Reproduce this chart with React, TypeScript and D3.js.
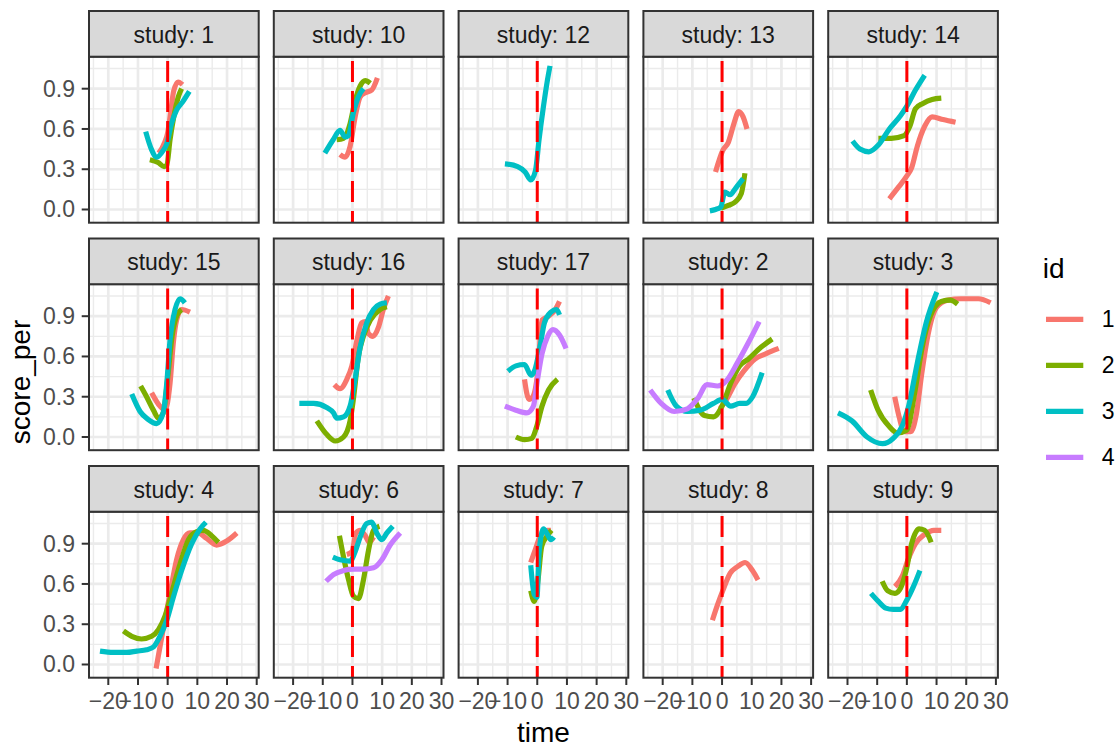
import React from "react";
import * as d3 from "d3";

type Pt = [number, number];

const studyLabels = ["1", "10", "12", "13", "14", "15", "16", "17", "2", "3", "4", "6", "7", "8", "9"];
const idLevels = ["1", "2", "3", "4"];
const idColors = ["#F8766D", "#7CAE00", "#00BFC4", "#C77CFF"];
const xMajor = [-20, -10, 0, 10, 20, 30];
const xMinor = [-25, -15, -5, 5, 15, 25];
const xTickLabels = ["\u221220", "\u221210", "0", "10", "20", "30"];
const yMajor = [0, 0.3, 0.6, 0.9];
const yMinor = [0.15, 0.45, 0.75, 1.05];
const yTickLabels = ["0.0", "0.3", "0.6", "0.9"];
const vlineTime = 0;
const xDomain: Pt = [-26.5, 30.67];
const yDomain: Pt = [-0.0984, 1.1384];

const study1: Record<string, Pt[]> = {
  "1": [[-3, 0.42], [-1, 0.5], [0, 0.57], [1, 0.72], [2, 0.88], [3.5, 0.95], [5, 0.93]],
  "2": [[-6, 0.37], [-3.2, 0.35], [-1.2, 0.32], [-0.3, 0.33], [0.8, 0.52], [1.9, 0.67], [3.6, 0.84], [4.7, 0.9]],
  "3": [[-7.4, 0.58], [-5.5, 0.45], [-3.7, 0.39], [-1.5, 0.44], [-0.3, 0.49], [1.3, 0.64], [3, 0.74], [5, 0.8], [7.3, 0.88]],
};
const study10: Record<string, Pt[]> = {
  "1": [[-4.2, 0.41], [-2.5, 0.39], [-0.8, 0.47], [0.9, 0.69], [2.6, 0.84], [4.3, 0.87], [6.5, 0.89], [8.4, 0.98]],
  "2": [[-5.3, 0.52], [-3, 0.53], [-0.8, 0.64], [0.9, 0.81], [2.6, 0.92], [4.3, 0.96], [6, 0.94]],
  "3": [[-9.3, 0.42], [-6.5, 0.52], [-4.2, 0.59], [-2.5, 0.54], [-1.4, 0.55], [0.3, 0.72], [2, 0.84], [3.7, 0.9]],
};
const study12: Record<string, Pt[]> = {
  "3": [[-10.9, 0.34], [-6.6, 0.32], [-4.1, 0.28], [-2.2, 0.22], [-0.6, 0.29], [0.6, 0.52], [2.1, 0.77], [3.4, 0.96], [4.3, 1.07]],
};
const study13: Record<string, Pt[]> = {
  "1": [[-2.2, 0.28], [0.25, 0.44], [2.1, 0.5], [4, 0.64], [5.6, 0.73], [7.1, 0.69], [8.4, 0.6]],
  "2": [[-0.4, 0.01], [2.1, 0.03], [4.6, 0.06], [6.5, 0.12], [7.7, 0.27]],
  "3": [[-4.1, -0.01], [-2.2, 0.0], [-0.4, 0.02], [0.9, 0.13], [2.75, 0.11], [4.6, 0.16], [7.1, 0.23]],
};
const study14: Record<string, Pt[]> = {
  "1": [[-5.9, 0.08], [-2.7, 0.17], [0, 0.25], [1.6, 0.31], [3.5, 0.47], [6, 0.62], [8.5, 0.69], [12.2, 0.67], [16.4, 0.65]],
  "2": [[-9.6, 0.53], [-5.2, 0.53], [-0.9, 0.55], [1, 0.62], [2.9, 0.75], [5.4, 0.79], [8.5, 0.82], [11.6, 0.83]],
  "3": [[-18.3, 0.51], [-15.8, 0.45], [-12.8, 0.43], [-9.6, 0.48], [-5.9, 0.6], [-2.1, 0.7], [0, 0.77], [2.9, 0.89], [6, 1.0]],
};
const study15: Record<string, Pt[]> = {
  "1": [[-5.4, 0.33], [-2.6, 0.23], [-0.9, 0.2], [0.8, 0.4], [1.9, 0.7], [3, 0.87], [4.7, 0.95], [7.5, 0.93]],
  "2": [[-9.1, 0.38], [-7.1, 0.3], [-4.8, 0.2], [-3.1, 0.14], [-1.5, 0.18], [0.2, 0.48], [1.3, 0.72], [3, 0.9], [4.7, 0.95]],
  "3": [[-12.1, 0.32], [-9.3, 0.19], [-6.5, 0.13], [-3.7, 0.1], [-1.5, 0.18], [-0.3, 0.4], [0.8, 0.72], [2.5, 0.95], [4.2, 1.03], [5.8, 1.0]],
};
const study16: Record<string, Pt[]> = {
  "1": [[-6.1, 0.39], [-4.2, 0.36], [-1.9, 0.43], [-0.2, 0.53], [1.5, 0.72], [3.1, 0.85], [4.3, 0.86], [5.4, 0.77], [6.9, 0.75], [8.8, 0.82], [10.4, 0.95], [12.1, 1.05]],
  "2": [[-12, 0.12], [-8.7, 0.02], [-5.8, -0.03], [-3, 0.0], [-0.8, 0.12], [0.3, 0.28], [2, 0.6], [3.7, 0.75], [6, 0.87], [9.3, 0.95], [11.6, 0.97]],
  "3": [[-17.9, 0.25], [-13.1, 0.25], [-8.7, 0.22], [-6.4, 0.18], [-5.3, 0.14], [-3, 0.15], [-0.8, 0.23], [0.9, 0.43], [2.6, 0.67], [4.8, 0.85], [7.1, 0.95], [9.3, 0.99], [11.6, 1.0]],
};
const study17: Record<string, Pt[]> = {
  "1": [[-4.3, 0.43], [-2.8, 0.28], [-1.5, 0.3], [0.15, 0.48], [1.6, 0.87], [3.8, 0.9], [6.1, 0.95], [7.5, 1.01]],
  "2": [[-7.2, 0.0], [-4.3, -0.02], [-1.8, -0.01], [-0.3, 0.07], [1.6, 0.23], [3.8, 0.35], [6.8, 0.43]],
  "3": [[-9.9, 0.49], [-7.2, 0.53], [-4.3, 0.54], [-2.1, 0.46], [-0.8, 0.5], [0.9, 0.67], [2.4, 0.85], [4.6, 0.93], [6.5, 0.95], [7.5, 0.91]],
  "4": [[-10.9, 0.23], [-7.2, 0.2], [-3.5, 0.18], [-1.3, 0.23], [0.1, 0.43], [1.6, 0.62], [3.5, 0.75], [5.3, 0.8], [7.5, 0.76], [9.7, 0.66]],
};
const study2: Record<string, Pt[]> = {
  "1": [[-0.7, 0.21], [1.5, 0.28], [4.4, 0.4], [7.3, 0.49], [11, 0.58], [14.7, 0.62], [19.1, 0.66]],
  "2": [[-9.5, 0.29], [-5.9, 0.16], [-2.9, 0.15], [0, 0.23], [2.9, 0.4], [5.9, 0.53], [8.8, 0.58], [13.2, 0.67], [16.9, 0.73]],
  "3": [[-18.3, 0.35], [-15.4, 0.23], [-11.7, 0.19], [-7.3, 0.2], [-2.9, 0.25], [0, 0.28], [2.9, 0.23], [5.9, 0.25], [8.1, 0.25], [10.3, 0.3], [13.5, 0.48]],
  "4": [[-24.2, 0.35], [-20.5, 0.25], [-16.1, 0.19], [-11.7, 0.21], [-8.1, 0.29], [-5.1, 0.39], [-1.5, 0.38], [1.5, 0.42], [5.1, 0.55], [8.8, 0.7], [12.5, 0.86]],
};
const study3: Record<string, Pt[]> = {
  "1": [[-4.1, 0.3], [-2.6, 0.15], [-0.9, 0.04], [1.3, 0.04], [3.2, 0.17], [5, 0.47], [7.2, 0.77], [10.1, 0.97], [13.8, 1.02], [18.2, 1.03], [24.1, 1.03], [28.2, 1.0]],
  "2": [[-12.2, 0.35], [-9.7, 0.2], [-6, 0.08], [-3.1, 0.03], [-0.1, 0.05], [2.8, 0.35], [5, 0.65], [7.9, 0.9], [11.6, 1.01], [14.6, 1.02], [17.1, 0.99]],
  "3": [[-23.2, 0.18], [-18.5, 0.12], [-13.4, 0.0], [-8.2, -0.05], [-4.6, -0.01], [-1.6, 0.08], [0.6, 0.23], [3.5, 0.55], [6.5, 0.85], [10.1, 1.08]],
};
const study4: Record<string, Pt[]> = {
  "1": [[-3.9, -0.03], [-2.6, 0.13], [-1.1, 0.31], [0.8, 0.53], [3, 0.78], [5.3, 0.93], [7.5, 0.98], [10.3, 0.98], [13.1, 0.94], [16.5, 0.89], [19.9, 0.92], [23.3, 0.98]],
  "2": [[-14.9, 0.25], [-12.1, 0.21], [-8.8, 0.19], [-5.4, 0.21], [-3.1, 0.26], [-0.9, 0.36], [1.3, 0.53], [4.2, 0.75], [7, 0.93], [9.8, 0.99], [12, 1.0], [14.8, 0.96], [17.1, 0.91]],
  "3": [[-22.8, 0.1], [-18.3, 0.09], [-13.8, 0.09], [-10.4, 0.1], [-7.1, 0.11], [-4.8, 0.13], [-2.6, 0.21], [-0.3, 0.33], [1.9, 0.5], [4.7, 0.7], [8.1, 0.9], [10.9, 1.01], [12.9, 1.06]],
};
const study6: Record<string, Pt[]> = {
  "1": [[-1.9, 0.82], [-0.2, 0.84], [1.2, 0.98], [2.6, 1.0], [4.3, 0.96], [5.7, 0.91], [7.1, 0.95]],
  "2": [[-4.4, 0.96], [-3, 0.8], [-1.3, 0.63], [0.3, 0.51], [2, 0.49], [3.7, 0.63], [5.4, 0.85], [7.1, 1.0], [9.1, 1.03]],
  "3": [[-6.6, 0.8], [-4.2, 0.78], [-0.8, 0.77], [0.9, 0.84], [2.6, 0.95], [4.8, 1.05], [6.5, 1.06], [8.2, 0.98], [9.9, 0.93], [11.6, 0.98], [13.6, 1.03]],
  "4": [[-8.9, 0.62], [-6.4, 0.67], [-3, 0.7], [0.3, 0.71], [3.7, 0.71], [7.1, 0.72], [9.9, 0.78], [12.7, 0.89], [16.1, 0.98]],
};
const study7: Record<string, Pt[]> = {
  "1": [[-2.2, 0.76], [-0.6, 0.86], [1.1, 0.96], [3.4, 1.0], [4.6, 1.0]],
  "2": [[-2.2, 0.55], [-1, 0.47], [0.25, 0.63], [1.5, 0.88], [3.4, 0.96], [4.8, 1.0]],
  "3": [[-2.2, 0.74], [-1, 0.52], [-0.1, 0.5], [0.6, 0.83], [2.1, 1.01], [3.4, 0.97], [4.6, 0.93], [5.6, 0.95]],
};
const study8: Record<string, Pt[]> = {
  "1": [[-3.25, 0.33], [-1.6, 0.44], [0.25, 0.55], [2.75, 0.68], [5.25, 0.73], [7.75, 0.76], [10.25, 0.7], [12.1, 0.63]],
};
const study9: Record<string, Pt[]> = {
  "1": [[-4, 0.58], [-1.5, 0.66], [0.4, 0.78], [2.9, 0.9], [6, 0.97], [9.1, 1.0], [11.6, 1.0]],
  "2": [[-8.3, 0.62], [-6.5, 0.55], [-4, 0.53], [-2.1, 0.57], [-0.25, 0.7], [1.6, 0.9], [4.1, 1.01], [6, 1.0], [8.2, 0.91]],
  "3": [[-12.1, 0.53], [-9.6, 0.47], [-7.1, 0.42], [-4.6, 0.41], [-2.1, 0.41], [-0.25, 0.47], [2.2, 0.58], [4.4, 0.7]],
};

const studyData = [study1, study10, study12, study13, study14, study15, study16, study17, study2, study3, study4, study6, study7, study8, study9];

const W = 1120;
const H = 746;
const nCol = 5;
const panelLeft0 = 89;
const colStride = 184.8;
const panelW = 169.7;
const stripTop0 = 11;
const rowStride = 227.5;
const stripH = 45.7;
const panelH = 166;
const FONT = "'Liberation Sans', Arial, Helvetica, sans-serif";
const tickFs = 23;
const titleFs = 28;

export default function App() {
  const nRow = Math.ceil(studyLabels.length / nCol);
  const panels = studyLabels.map((lab, i) => {
    const col = i % nCol;
    const row = Math.floor(i / nCol);
    const left = panelLeft0 + col * colStride;
    const stripTop = stripTop0 + row * rowStride;
    const top = stripTop + stripH;
    const bottom = top + panelH;
    const x = d3.scaleLinear().domain(xDomain).range([left, left + panelW]);
    const y = d3.scaleLinear().domain(yDomain).range([bottom, top]);
    const line = d3
      .line<Pt>()
      .x((d) => x(d[0]))
      .y((d) => y(d[1]))
      .curve(d3.curveMonotoneX);
    const data = studyData[i];
    return (
      <g key={lab}>
        <defs>
          <clipPath id={`clip${i}`}>
            <rect x={left} y={top} width={panelW} height={panelH} />
          </clipPath>
        </defs>
        <rect x={left} y={top} width={panelW} height={panelH} fill="#FFFFFF" />
        {xMinor.map((v) => (
          <line key={`xm${v}`} x1={x(v)} x2={x(v)} y1={top} y2={bottom} stroke="#EBEBEB" strokeWidth={1.4} />
        ))}
        {yMinor.map((v) => (
          <line key={`ym${v}`} x1={left} x2={left + panelW} y1={y(v)} y2={y(v)} stroke="#EBEBEB" strokeWidth={1.4} />
        ))}
        {xMajor.map((v) => (
          <line key={`xM${v}`} x1={x(v)} x2={x(v)} y1={top} y2={bottom} stroke="#EBEBEB" strokeWidth={2.7} />
        ))}
        {yMajor.map((v) => (
          <line key={`yM${v}`} x1={left} x2={left + panelW} y1={y(v)} y2={y(v)} stroke="#EBEBEB" strokeWidth={2.7} />
        ))}
        <g clipPath={`url(#clip${i})`}>
          {idLevels.map((id, k) =>
            data[id] ? (
              <path key={id} d={line(data[id]) || ""} fill="none" stroke={idColors[k]} strokeWidth={5.2} />
            ) : null
          )}
          <line
            x1={x(vlineTime)}
            x2={x(vlineTime)}
            y1={top}
            y2={bottom}
            stroke="#FF0000"
            strokeWidth={3}
            strokeDasharray="21 9"
            strokeDashoffset={25.7}
          />
        </g>
        <rect x={left} y={top} width={panelW} height={panelH} fill="none" stroke="#333333" strokeWidth={2} />
        <rect x={left} y={stripTop} width={panelW} height={stripH} fill="#D9D9D9" stroke="#333333" strokeWidth={2} />
        <text
          x={left + panelW / 2}
          y={stripTop + 31.7}
          textAnchor="middle"
          fontFamily={FONT}
          fontSize={tickFs}
          fill="#1A1A1A"
        >
          {`study: ${lab}`}
        </text>
        {col === 0 &&
          yMajor.map((v, j) => (
            <g key={`yt${v}`}>
              <line x1={left - 7.3} x2={left} y1={y(v)} y2={y(v)} stroke="#333333" strokeWidth={2} />
              <text
                x={left - 14}
                y={y(v) + 8}
                textAnchor="end"
                fontFamily={FONT}
                fontSize={tickFs}
                fill="#4D4D4D"
              >
                {yTickLabels[j]}
              </text>
            </g>
          ))}
        {row === nRow - 1 &&
          xMajor.map((v, j) => (
            <g key={`xt${v}`}>
              <line x1={x(v)} x2={x(v)} y1={bottom} y2={bottom + 7.3} stroke="#333333" strokeWidth={2} />
              <text
                x={x(v)}
                y={bottom + 31}
                textAnchor="middle"
                fontFamily={FONT}
                fontSize={tickFs}
                fill="#4D4D4D"
              >
                {xTickLabels[j]}
              </text>
            </g>
          ))}
      </g>
    );
  });

  const plotLeft = panelLeft0;
  const plotRight = panelLeft0 + (nCol - 1) * colStride + panelW;

  return (
    <div>
      <style>{`body{margin:0;}`}</style>
      <svg width={W} height={H} style={{ display: "block", position: "absolute", left: 0, top: 0 }}>
        <rect x={0} y={0} width={W} height={H} fill="#FFFFFF" />
        {panels}
        <text
          x={(plotLeft + plotRight) / 2}
          y={741.5}
          textAnchor="middle"
          fontFamily={FONT}
          fontSize={titleFs}
          fill="#000000"
        >
          time
        </text>
        <text
          transform={`translate(29.5, 382) rotate(-90)`}
          textAnchor="middle"
          fontFamily={FONT}
          fontSize={titleFs}
          fill="#000000"
        >
          score_per
        </text>
        <text x={1042.7} y={278.3} fontFamily={FONT} fontSize={titleFs} fill="#000000">
          id
        </text>
        {idLevels.map((id, k) => (
          <g key={`leg${id}`}>
            <line x1={1046} x2={1083.3} y1={319.3 + k * 46} y2={319.3 + k * 46} stroke={idColors[k]} strokeWidth={5.2} />
            <text x={1101.7} y={319.3 + k * 46 + 8} fontFamily={FONT} fontSize={tickFs} fill="#000000">
              {id}
            </text>
          </g>
        ))}
      </svg>
    </div>
  );
}
